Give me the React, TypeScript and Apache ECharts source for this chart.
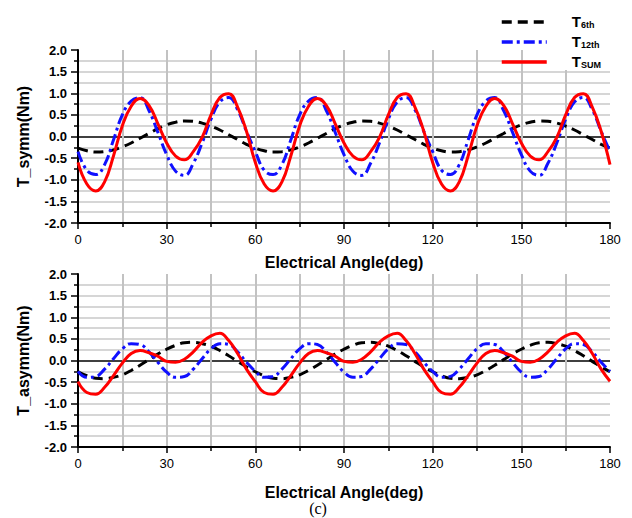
import React, { useEffect, useRef } from 'react';
import * as echarts from 'echarts';

const angles = [
  0, 3, 6, 9, 12, 15, 18, 21, 24, 27, 30, 33, 36, 39, 42, 45, 48, 51, 54, 57,
  60, 63, 66, 69, 72, 75, 78, 81, 84, 87, 90, 93, 96, 99, 102, 105, 108, 111, 114, 117,
  120, 123, 126, 129, 132, 135, 138, 141, 144, 147, 150, 153, 156, 159, 162, 165, 168, 171, 174, 177,
  180,
];

const symm6th = [
  -0.27, -0.33, -0.36, -0.35, -0.31, -0.24, -0.15, -0.04, 0.07, 0.18, 0.27, 0.33, 0.36, 0.35, 0.31, 0.24, 0.15, 0.04, -0.07, -0.18,
  -0.27, -0.33, -0.36, -0.35, -0.31, -0.24, -0.15, -0.04, 0.07, 0.18, 0.27, 0.33, 0.36, 0.35, 0.31, 0.24, 0.15, 0.04, -0.07, -0.18,
  -0.27, -0.33, -0.36, -0.35, -0.31, -0.24, -0.15, -0.04, 0.07, 0.18, 0.27, 0.33, 0.36, 0.35, 0.31, 0.24, 0.15, 0.04, -0.07, -0.18,
  -0.27,
];
const symm12th = [
  -0.35, -0.78, -0.88, -0.65, -0.08, 0.5, 0.82, 0.9, 0.6, 0.1, -0.42, -0.8, -0.9, -0.62, -0.15, 0.4, 0.8, 0.9, 0.62, 0.12,
  -0.35, -0.78, -0.88, -0.65, -0.08, 0.5, 0.82, 0.9, 0.6, 0.1, -0.42, -0.8, -0.9, -0.62, -0.15, 0.4, 0.8, 0.9, 0.62, 0.12,
  -0.35, -0.78, -0.88, -0.65, -0.08, 0.5, 0.82, 0.9, 0.6, 0.1, -0.42, -0.8, -0.9, -0.62, -0.15, 0.4, 0.8, 0.9, 0.62, 0.12,
  -0.35,
];
const symmSum = [
  -0.6, -1.1, -1.26, -1.05, -0.45, 0.25, 0.7, 0.88, 0.72, 0.3, -0.15, -0.45, -0.54, -0.35, -0.02, 0.5, 0.9, 0.99, 0.68, 0.12,
  -0.6, -1.1, -1.26, -1.05, -0.45, 0.25, 0.7, 0.88, 0.72, 0.3, -0.15, -0.45, -0.54, -0.35, -0.02, 0.5, 0.9, 0.99, 0.68, 0.12,
  -0.6, -1.1, -1.26, -1.05, -0.45, 0.25, 0.7, 0.88, 0.72, 0.3, -0.15, -0.45, -0.54, -0.35, -0.02, 0.5, 0.9, 0.99, 0.68, 0.12,
  -0.65,
];

const asymm6th = [
  -0.26, -0.35, -0.41, -0.42, -0.39, -0.33, -0.23, -0.11, 0.02, 0.15, 0.26, 0.35, 0.41, 0.42, 0.39, 0.33, 0.23, 0.11, -0.02, -0.15,
  -0.26, -0.35, -0.41, -0.42, -0.39, -0.33, -0.23, -0.11, 0.02, 0.15, 0.26, 0.35, 0.41, 0.42, 0.39, 0.33, 0.23, 0.11, -0.02, -0.15,
  -0.26, -0.35, -0.41, -0.42, -0.39, -0.33, -0.23, -0.11, 0.02, 0.15, 0.26, 0.35, 0.41, 0.42, 0.39, 0.33, 0.23, 0.11, -0.02, -0.15,
  -0.26,
];
const asymm12th = [
  -0.25, -0.39, -0.37, -0.2, 0.04, 0.27, 0.39, 0.37, 0.2, -0.04, -0.27, -0.39, -0.37, -0.2, 0.04, 0.27, 0.39, 0.37, 0.2, -0.04,
  -0.25, -0.39, -0.37, -0.2, 0.04, 0.27, 0.39, 0.37, 0.2, -0.04, -0.27, -0.39, -0.37, -0.2, 0.04, 0.27, 0.39, 0.37, 0.2, -0.04,
  -0.25, -0.39, -0.37, -0.2, 0.04, 0.27, 0.39, 0.37, 0.2, -0.04, -0.27, -0.39, -0.37, -0.2, 0.04, 0.27, 0.39, 0.37, 0.2, -0.04,
  -0.25,
];
const asymmSum = [
  -0.49, -0.74, -0.78, -0.62, -0.35, -0.06, 0.16, 0.23, 0.18, 0.1, -0.02, -0.04, 0.03, 0.2, 0.42, 0.57, 0.63, 0.46, 0.16, -0.2,
  -0.49, -0.74, -0.78, -0.62, -0.35, -0.06, 0.16, 0.23, 0.18, 0.1, -0.02, -0.04, 0.03, 0.2, 0.42, 0.57, 0.63, 0.46, 0.16, -0.2,
  -0.49, -0.74, -0.78, -0.62, -0.35, -0.06, 0.16, 0.23, 0.18, 0.1, -0.02, -0.04, 0.03, 0.2, 0.42, 0.57, 0.63, 0.46, 0.16, -0.2,
  -0.48,
];

const seriesNames = ['T6th', 'T12th', 'TSUM'];
const xTitle = 'Electrical Angle(deg)';
const yTitles = ['T_symm(Nm)', 'T_asymm(Nm)'];
const figureLabel = '(c)';

const FONT = 'Liberation Sans, Arial, sans-serif';
const GRAY_V = '#c2c2c2';
const GRAY_H = '#c8c8c8';

function makeX(gridIndex: number, nameGap: number) {
  return {
    type: 'value',
    gridIndex,
    min: 0,
    max: 180,
    interval: 30,
    name: xTitle,
    nameLocation: 'middle',
    nameGap,
    nameTextStyle: { fontFamily: FONT, fontSize: 16, fontWeight: 'bold', color: '#000' },
    axisLine: { show: true, onZero: false, lineStyle: { color: '#000', width: 2 } },
    axisTick: { show: true, inside: false, length: 6, lineStyle: { color: '#000', width: 1.5 } },
    minorTick: { show: true, splitNumber: 2, length: 4, lineStyle: { color: '#000', width: 1.5 } },
    axisLabel: { fontFamily: FONT, fontSize: 13, color: '#000', margin: 10 },
    splitLine: {
      show: true,
      lineStyle: {
        color: ['transparent', GRAY_V, GRAY_V, GRAY_V, GRAY_V, GRAY_V, 'transparent'],
        width: 2,
      },
    },
    minorSplitLine: { show: true, lineStyle: { color: GRAY_V, width: 2 } },
  };
}

function makeY(gridIndex: number, name: string) {
  return {
    type: 'value',
    gridIndex,
    min: -2,
    max: 2,
    interval: 0.5,
    name,
    nameLocation: 'middle',
    nameGap: 47,
    nameTextStyle: { fontFamily: FONT, fontSize: 16, fontWeight: 'bold', color: '#000' },
    axisLine: { show: true, onZero: false, lineStyle: { color: '#000', width: 2 } },
    axisTick: { show: true, inside: false, length: 7, lineStyle: { color: '#000', width: 1.5 } },
    minorTick: { show: true, splitNumber: 2, length: 4, lineStyle: { color: '#000', width: 1.5 } },
    axisLabel: {
      fontFamily: FONT,
      fontSize: 13,
      fontWeight: 'bold',
      color: '#000',
      margin: 11,
      formatter: (v: number) => v.toFixed(1),
    },
    splitLine: {
      show: true,
      lineStyle: {
        color: ['transparent', GRAY_H, GRAY_H, GRAY_H, '#000', GRAY_H, GRAY_H, GRAY_H, 'transparent'],
        width: 1.6,
      },
    },
    minorSplitLine: { show: true, lineStyle: { color: GRAY_H, width: 1.5 } },
  };
}

function pairs(vals: number[]) {
  return angles.map((a, i) => [a, vals[i]]);
}

function makeSeries(gridIndex: number, sets: number[][]) {
  const styles = [
    { color: '#000000', type: [10, 6] as any, width: 3 },
    { color: '#1010ff', type: [11, 4, 3, 4] as any, width: 3 },
    { color: '#ff0000', type: 'solid', width: 3 },
  ];
  return sets.map((vals, k) => ({
    type: 'line',
    name: seriesNames[k],
    xAxisIndex: gridIndex,
    yAxisIndex: gridIndex,
    data: pairs(vals),
    smooth: 0.45,
    showSymbol: false,
    symbol: 'none',
    color: styles[k].color,
    lineStyle: styles[k],
    z: 2 + k,
  }));
}

export default function App() {
  const ref = useRef<HTMLDivElement>(null);
  useEffect(() => {
    if (!ref.current) return;
    const chart = echarts.init(ref.current, null, { renderer: 'svg' });
    const option: any = {
      animation: false,
      backgroundColor: '#ffffff',
      grid: [
        { left: 78, right: 22, top: 50, height: 173 },
        { left: 78, right: 22, top: 274, height: 173 },
      ],
      xAxis: [makeX(0, 31), makeX(1, 37)],
      yAxis: [makeY(0, yTitles[0]), makeY(1, yTitles[1])],
      legend: {
        show: true,
        orient: 'vertical',
        left: 500,
        top: 14,
        padding: 0,
        itemWidth: 45,
        itemHeight: 14,
        itemGap: 5,
        data: seriesNames,
        itemStyle: { opacity: 0, borderWidth: 0 },
        lineStyle: { width: 3.5 },
        formatter: (name: string) => `{sp|}{t|T}{s|${name.slice(1)}}`,
        textStyle: {
          fontFamily: FONT,
          color: '#000',
          rich: {
            sp: { width: 20, lineHeight: 14 },
            t: { fontFamily: FONT, fontSize: 15, fontWeight: 'bold', color: '#000', lineHeight: 14, verticalAlign: 'bottom' },
            s: { fontFamily: FONT, fontSize: 9, fontWeight: 'bold', color: '#000', lineHeight: 14, verticalAlign: 'bottom' },
          },
        },
      },
      graphic: [
        {
          type: 'rect',
          z: 1,
          shape: { x: 546, y: 0, width: 86, height: 70 },
          style: { fill: '#ffffff' },
          silent: true,
        },
        {
          type: 'text',
          z: 5,
          x: 318,
          y: 500,
          style: {
            text: figureLabel,
            fontFamily: 'Liberation Serif, DejaVu Serif, serif',
            fontSize: 16,
            fill: '#000',
            textAlign: 'center',
            textVerticalAlign: 'top',
          },
        },
      ],
      series: [
        ...makeSeries(0, [symm6th, symm12th, symmSum]),
        ...makeSeries(1, [asymm6th, asymm12th, asymmSum]),
      ],
    };
    chart.setOption(option);
    return () => chart.dispose();
  }, []);
  return (
    <div
      ref={ref}
      style={{ position: 'absolute', left: 0, top: 0, width: 632, height: 518, background: '#fff' }}
    />
  );
}
